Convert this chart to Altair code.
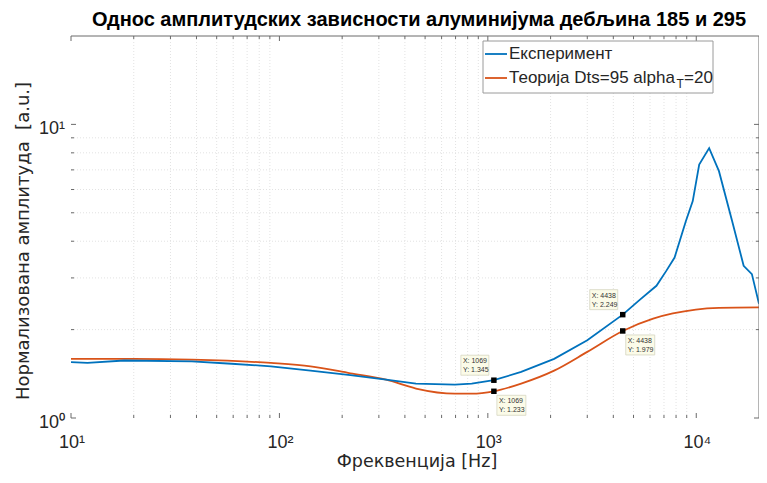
import altair as alt
import pandas as pd

# ---------------- data ----------------
freq_exp = [10, 12, 18, 38, 59, 91, 141, 219, 325, 452, 695, 837, 1069, 1445, 2080,
            3000, 4438, 5370, 6440, 7180, 7870, 8920, 9620, 10330, 11530, 12850,
            14860, 16880, 18490, 20000]
amp_exp = [1.55, 1.54, 1.57, 1.56, 1.53, 1.50, 1.45, 1.40, 1.35, 1.31, 1.30, 1.31, 1.345,
           1.435, 1.59, 1.84, 2.249, 2.53, 2.82, 3.17, 3.52, 4.69, 5.48, 7.3, 8.3, 6.93,
           4.69, 3.30, 3.09, 2.45]

freq_th = [10, 20, 38, 91, 141, 219, 325, 452, 695, 837, 1069, 1445, 2080, 3000, 4438,
           6210, 7720, 9950, 12850, 20000]
amp_th = [1.59, 1.59, 1.58, 1.54, 1.50, 1.42, 1.35, 1.26, 1.21, 1.21, 1.233, 1.31, 1.45,
          1.68, 1.979, 2.18, 2.27, 2.34, 2.37, 2.38]

tip_freq = [1069, 4438]
tip_exp = [1.345, 2.249]
tip_th = [1.233, 1.979]

x_major = [10, 100, 1000, 10000]
x_major_labels = ["10¹", "10²", "10³", "10⁴"]
y_major = [1, 10]
y_major_labels = ["10⁰", "10¹"]
x_minor = [20, 30, 40, 50, 60, 70, 80, 90, 200, 300, 400, 500, 600, 700, 800, 900,
           2000, 3000, 4000, 5000, 6000, 7000, 8000, 9000]
y_minor = [2, 3, 4, 5, 6, 7, 8, 9]

title_text = "Однос амплитудских зависности алуминијума дебљина 185 и 295"
x_title = "Фреквенција [Hz]"
y_title = "Нормализована амплитуда\u00a0 [a.u.]"
legend_names = ["Експеримент", "Теорија Dts=95 alpha", "T", "=20"]

# ---------------- style ----------------
W, H = 688, 382
FONT = "Liberation Sans"
TFONT = "DejaVu Sans"
BLUE = "#0072BD"
ORANGE = "#D95319"
TXT = "#262626"
AX = "#6a6a6a"

xs = alt.Scale(type="log", domain=[10, 20000], nice=False)
ys = alt.Scale(type="log", domain=[1, 20], nice=False)

x_axis = alt.Axis(values=x_major, grid=True, gridColor="#dcdcdc", gridWidth=1, ticks=False,
                  labels=False, domainColor=AX, domainWidth=1, title=None)
y_axis = alt.Axis(values=y_major, grid=True, gridColor="#dcdcdc", gridWidth=1, ticks=False,
                  labels=False, domainColor=AX, domainWidth=1, title=None)

df_exp = pd.DataFrame({"f": freq_exp, "a": amp_exp})
df_th = pd.DataFrame({"f": freq_th, "a": amp_th})
df_xmin = pd.DataFrame({"v": x_minor})
df_ymin = pd.DataFrame({"v": y_minor})
df_xmaj = pd.DataFrame({"v": x_major, "lab": x_major_labels})
df_ymaj = pd.DataFrame({"v": y_major, "lab": y_major_labels})
df_tip_e = pd.DataFrame({"f": tip_freq, "a": tip_exp,
                         "t": [f"X: {f}\nY: {a}" for f, a in zip(tip_freq, tip_exp)]})
df_tip_t = pd.DataFrame({"f": tip_freq, "a": tip_th,
                         "t": [f"X: {f}\nY: {a}" for f, a in zip(tip_freq, tip_th)]})
one = pd.DataFrame({"k": [0]})

X = lambda f: alt.X(f, scale=xs, axis=None)
Y = lambda f: alt.Y(f, scale=ys, axis=None)

layers = []
# minor grid
layers.append(alt.Chart(df_xmin).mark_rule(color="#e2e2e2", strokeDash=[1, 2], strokeWidth=1)
              .encode(x=alt.X("v:Q", scale=xs, axis=x_axis)))
layers.append(alt.Chart(df_ymin).mark_rule(color="#e2e2e2", strokeDash=[1, 2], strokeWidth=1)
              .encode(y=alt.Y("v:Q", scale=ys, axis=y_axis)))

# lines
layers.append(alt.Chart(df_th).mark_line(color=ORANGE, strokeWidth=1.8, interpolate="monotone")
              .encode(x=X("f:Q"), y=Y("a:Q")))
layers.append(alt.Chart(df_exp).mark_line(color=BLUE, strokeWidth=1.8)
              .encode(x=X("f:Q"), y=Y("a:Q")))

# inward ticks (MATLAB style)
for dfv, ln in ((df_xmaj, 5), (df_xmin, 3)):
    layers.append(alt.Chart(dfv).mark_rule(color=AX, strokeWidth=1)
                  .encode(x=X("v:Q"), y=alt.value(H), y2=alt.value(H - ln)))
    layers.append(alt.Chart(dfv).mark_rule(color=AX, strokeWidth=1)
                  .encode(x=X("v:Q"), y=alt.value(0), y2=alt.value(ln)))
for dfv, ln in ((df_ymaj, 5), (df_ymin, 3)):
    layers.append(alt.Chart(dfv).mark_rule(color=AX, strokeWidth=1)
                  .encode(y=Y("v:Q"), x=alt.value(0), x2=alt.value(ln)))
    layers.append(alt.Chart(dfv).mark_rule(color=AX, strokeWidth=1)
                  .encode(y=Y("v:Q"), x=alt.value(W), x2=alt.value(W - ln)))

# box top / right
layers.append(alt.Chart(one).mark_rule(color=AX, strokeWidth=1)
              .encode(x=alt.value(0), x2=alt.value(W), y=alt.value(0)))
layers.append(alt.Chart(one).mark_rule(color=AX, strokeWidth=1)
              .encode(x=alt.value(W), y=alt.value(0), y2=alt.value(H)))

# tick labels and axis titles
layers.append(alt.Chart(df_xmaj).mark_text(font=FONT, fontSize=18, color=TXT, align="center",
                                           baseline="alphabetic", dx=1)
              .encode(x=X("v:Q"), y=alt.value(H + 30), text="lab:N"))
layers.append(alt.Chart(df_ymaj).mark_text(font=FONT, fontSize=18, color=TXT, align="right",
                                           baseline="middle", dy=5)
              .encode(y=Y("v:Q"), x=alt.value(-6), text="lab:N"))
layers.append(alt.Chart(one).mark_text(font=TFONT, fontSize=17.5, color=TXT, align="center",
                                       baseline="alphabetic", text=x_title)
              .encode(x=alt.value(W / 2 + 2), y=alt.value(H + 49)))
layers.append(alt.Chart(one).mark_text(font=TFONT, fontSize=18, color=TXT, align="center",
                                       baseline="alphabetic", angle=270, text=y_title)
              .encode(x=alt.value(-42), y=alt.value(205)))
layers.append(alt.Chart(one).mark_text(font=FONT, fontSize=20, fontWeight="bold", color="black",
                                       align="center", baseline="alphabetic", text=title_text)
              .encode(x=alt.value(W / 2 + 4), y=alt.value(-10)))

# data tips
box_fill, box_stroke = "#fbfbe8", "#d6d6c2"
layers.append(alt.Chart(df_tip_e).mark_rect(fill=box_fill, stroke=box_stroke, strokeWidth=0.8,
                                            xOffset=-33, x2Offset=-5, yOffset=-25, y2Offset=-5)
              .encode(x=X("f:Q"), x2="f:Q", y=Y("a:Q"), y2="a:Q"))
layers.append(alt.Chart(df_tip_t).mark_rect(fill=box_fill, stroke=box_stroke, strokeWidth=0.8,
                                            xOffset=3, x2Offset=32, yOffset=4, y2Offset=24)
              .encode(x=X("f:Q"), x2="f:Q", y=Y("a:Q"), y2="a:Q"))
layers.append(alt.Chart(df_tip_e).mark_text(font=FONT, fontSize=7, color="#333333", align="left",
                                            baseline="top", lineBreak="\n", lineHeight=9,
                                            dx=-31, dy=-23)
              .encode(x=X("f:Q"), y=Y("a:Q"), text="t:N"))
layers.append(alt.Chart(df_tip_t).mark_text(font=FONT, fontSize=7, color="#333333", align="left",
                                            baseline="top", lineBreak="\n", lineHeight=9,
                                            dx=5, dy=6)
              .encode(x=X("f:Q"), y=Y("a:Q"), text="t:N"))
for dfp in (df_tip_e, df_tip_t):
    layers.append(alt.Chart(dfp).mark_square(size=30, color="black", opacity=1)
                  .encode(x=X("f:Q"), y=Y("a:Q")))

# legend (MATLAB style, drawn by hand)
LX0, LX1, LY0, LY1 = W - 276, W - 46, 5, 57
layers.append(alt.Chart(one).mark_rect(fill="white", stroke="#9a9a9a", strokeWidth=1)
              .encode(x=alt.value(LX0), x2=alt.value(LX1), y=alt.value(LY0), y2=alt.value(LY1)))
for i, col in enumerate((BLUE, ORANGE)):
    yy = 18 + 24 * i
    layers.append(alt.Chart(one).mark_rule(color=col, strokeWidth=1.8)
                  .encode(x=alt.value(LX0 + 2), x2=alt.value(LX0 + 24), y=alt.value(yy)))
layers.append(alt.Chart(one).mark_text(font=FONT, fontSize=17, color=TXT, align="left",
                                       baseline="middle", text=legend_names[0])
              .encode(x=alt.value(LX0 + 26), y=alt.value(18)))
layers.append(alt.Chart(one).mark_text(font=FONT, fontSize=17, color=TXT, align="left",
                                       baseline="middle", text=legend_names[1])
              .encode(x=alt.value(LX0 + 26), y=alt.value(42)))
layers.append(alt.Chart(one).mark_text(font=FONT, fontSize=12, color=TXT, align="left",
                                       baseline="middle", text=legend_names[2])
              .encode(x=alt.value(LX0 + 193.5), y=alt.value(48)))
layers.append(alt.Chart(one).mark_text(font=FONT, fontSize=17, color=TXT, align="left",
                                       baseline="middle", text=legend_names[3])
              .encode(x=alt.value(LX0 + 201), y=alt.value(42)))

chart = alt.layer(*layers).properties(
    width=W, height=H,
    autosize=alt.AutoSizeParams(type="none"),
    padding={"left": 63, "top": 28, "right": 0, "bottom": 57},
).configure_view(stroke=None)

chart.save("out.html", embed_options={"renderer": "svg", "actions": False})
